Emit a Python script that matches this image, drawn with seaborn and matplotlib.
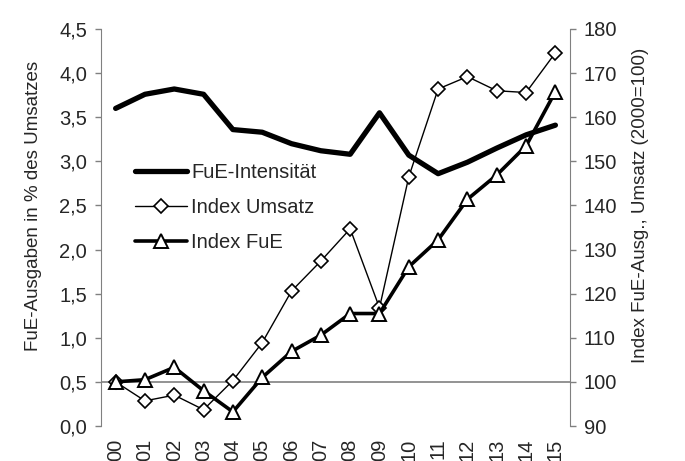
import matplotlib
matplotlib.use("Agg")
import matplotlib.pyplot as plt
import seaborn as sns

# data
years = list(range(2000, 2016))
year_labels = ["00", "01", "02", "03", "04", "05", "06", "07",
               "08", "09", "10", "11", "12", "13", "14", "15"]
intensitaet = [3.60, 3.76, 3.82, 3.76, 3.36, 3.33, 3.20, 3.12, 3.08, 3.55,
               3.07, 2.86, 2.99, 3.15, 3.30, 3.41]
index_umsatz = [100.0, 95.7, 97.0, 93.7, 100.3, 108.9, 120.6, 127.4, 134.7, 116.8,
                146.5, 166.4, 169.2, 166.0, 165.6, 174.6]
index_fue = [100.0, 100.5, 103.3, 98.0, 93.2, 101.0, 106.9, 110.6, 115.5, 115.5,
             126.1, 132.2, 141.4, 146.9, 153.5, 165.8]
left_ticks = [0.0, 0.5, 1.0, 1.5, 2.0, 2.5, 3.0, 3.5, 4.0, 4.5]
left_labels = ["0,0", "0,5", "1,0", "1,5", "2,0", "2,5", "3,0", "3,5", "4,0", "4,5"]
right_ticks = [90, 100, 110, 120, 130, 140, 150, 160, 170, 180]

sns.set_style("white")
plt.rcParams['font.family'] = ['Liberation Sans', 'DejaVu Sans']

grey = "#808080"
fs_tick = 14.5
fs_title = 13.5

fig = plt.figure(figsize=(6.85, 4.61), dpi=100)
ax = fig.add_axes([0.1474, 0.0759, 0.6848, 0.8612])
ax2 = ax.twinx()

# category axis crosses at 0,5 / 100
ax.axhline(0.5, color=grey, lw=1.2, zorder=1)

sns.lineplot(x=years, y=intensitaet, ax=ax, color="black", lw=3.8,
             label="FuE-Intensität", legend=False, zorder=3)
sns.lineplot(x=years, y=index_umsatz, ax=ax2, color="black", lw=1.0,
             marker="D", markersize=7, markerfacecolor="white",
             markeredgecolor="black", markeredgewidth=1.2,
             label="Index Umsatz", legend=False, zorder=4)
sns.lineplot(x=years, y=index_fue, ax=ax2, color="black", lw=2.6,
             marker="^", markersize=10, markerfacecolor="white",
             markeredgecolor="black", markeredgewidth=1.4,
             label="Index FuE", legend=False, zorder=5)

ax.set_xlim(1999.5, 2015.5)
ax.set_ylim(0, 4.5)
ax2.set_ylim(90, 180)

ax.set_yticks(left_ticks)
ax.set_yticklabels(left_labels)
ax2.set_yticks(right_ticks)
ax.set_xticks(years)
ax.set_xticklabels(year_labels, rotation=90, va="top", ha="center")

for a in (ax, ax2):
    for s in a.spines.values():
        s.set_visible(False)
    a.grid(False)
ax.spines["left"].set_visible(True)
ax.spines["left"].set_color(grey)
ax2.spines["right"].set_visible(True)
ax2.spines["right"].set_color(grey)

ax.tick_params(axis="y", left=True, length=4, width=1, color=grey, pad=6, labelsize=fs_tick)
ax2.tick_params(axis="y", right=True, length=4, width=1, color=grey, pad=6, labelsize=fs_tick)
ax.tick_params(axis="x", bottom=False, length=0, pad=9, labelsize=fs_tick)

ax.set_ylabel("FuE-Ausgaben in % des Umsatzes", fontsize=fs_title)
ax.yaxis.set_label_coords(-0.126, 0.555)
ax2.set_ylabel("Index FuE-Ausg., Umsatz (2000=100)", fontsize=fs_title, rotation=90)
ax2.yaxis.set_label_coords(1.132, 0.555)

h1, l1 = ax.get_legend_handles_labels()
h2, l2 = ax2.get_legend_handles_labels()
ax2.legend(h1 + h2, l1 + l2, loc="upper left", bbox_to_anchor=(0.072, 0.663),
           frameon=False, borderpad=0, borderaxespad=0, handlelength=2.6,
           handletextpad=0.2, labelspacing=0.8, fontsize=fs_tick)

fig.savefig("out.png", dpi=100)
